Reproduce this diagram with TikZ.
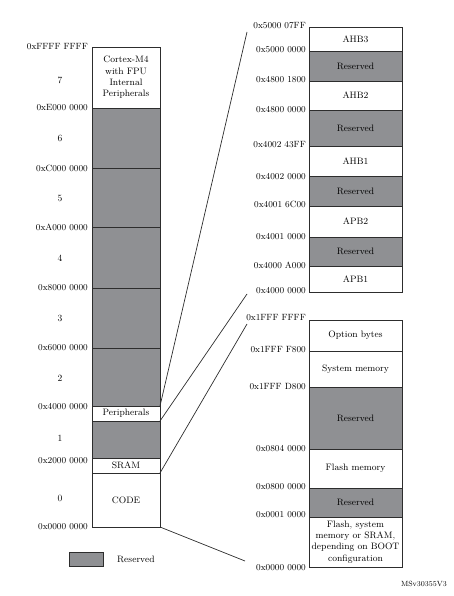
\documentclass[tikz,border=0pt]{standalone}
\usetikzlibrary{positioning}
\definecolor{resgray}{RGB}{143,144,147}
\definecolor{edgegray}{RGB}{45,45,45}
\tikzset{
  cell/.style={draw=edgegray, line width=0.9pt, fill=white, minimum width=#1,
    inner sep=0pt, outer sep=0pt, align=center, font=\fontsize{9.3}{11.3}\selectfont},
  cell/.default=68pt,
  resv/.style={fill=resgray},
  addr/.style={anchor=east, inner sep=0pt, font=\fontsize{9}{10}\selectfont},
  idx/.style={inner sep=0pt, font=\fontsize{9.5}{10}\selectfont},
  link/.style={draw=edgegray, line width=0.7pt}
}
\begin{document}
\begin{tikzpicture}[x=1pt,y=-1pt]
  \useasboundingbox (0,0) rectangle (454,596);

  % Full 4 GB map
  \node[cell, minimum height=61pt, anchor=north west] (r7) at (92,47)
    {Cortex-M4\\with FPU\\Internal\\Peripherals};
  \node[cell, resv, minimum height=60pt, below=0pt of r7] (r6) {};
  \node[cell, resv, minimum height=59pt, below=0pt of r6] (r5) {};
  \node[cell, resv, minimum height=61pt, below=0pt of r5] (r4) {};
  \node[cell, resv, minimum height=60pt, below=0pt of r4] (r3) {};
  \node[cell, resv, minimum height=58pt, below=0pt of r3] (r2) {};
  \node[cell, minimum height=15pt, below=0pt of r2] (per) {Peripherals};
  \node[cell, resv, minimum height=37pt, below=0pt of per] (r1) {};
  \node[cell, minimum height=15pt, below=0pt of r1] (sram) {SRAM};
  \node[cell, minimum height=54pt, below=0pt of sram] (code) {CODE};

  % Block numbers
  \foreach \n/\y in {7/80,6/138,5/198,4/258,3/318,2/378,1/438,0/498}
    \node[idx] (i\n) at (60,\y) {\n};

  % Addresses of the full map
  \node[addr] (a0) at ([xshift=-4pt]r7.north west) {0xFFFF FFFF};
  \node[addr] (a1) at ([xshift=-4pt]r6.north west) {0xE000 0000};
  \node[addr] (a2) at ([xshift=-4pt]r5.north west) {0xC000 0000};
  \node[addr] (a3) at ([xshift=-4pt]r4.north west) {0xA000 0000};
  \node[addr] (a4) at ([xshift=-4pt]r3.north west) {0x8000 0000};
  \node[addr] (a5) at ([xshift=-4pt]r2.north west) {0x6000 0000};
  \node[addr] (a6) at ([xshift=-4pt,yshift=-1pt]per.north west) {0x4000 0000};
  \node[addr] (a7) at ([xshift=-4pt,yshift=5pt]sram.west) {0x2000 0000};
  \node[addr] (a8) at ([xshift=-4pt]code.south west) {0x0000 0000};

  % Peripherals detail
  \node[cell=93pt, minimum height=24pt, anchor=north west] (ahb3) at (309,27) {AHB3};
  \node[cell=93pt, resv, minimum height=30pt, below=0pt of ahb3] (pr4) {Reserved};
  \node[cell=93pt, minimum height=29pt, below=0pt of pr4] (ahb2) {AHB2};
  \node[cell=93pt, resv, minimum height=36pt, below=0pt of ahb2] (pr3) {Reserved};
  \node[cell=93pt, minimum height=30pt, below=0pt of pr3] (ahb1) {AHB1};
  \node[cell=93pt, resv, minimum height=30pt, below=0pt of ahb1] (pr2) {Reserved};
  \node[cell=93pt, minimum height=31pt, below=0pt of pr2] (apb2) {APB2};
  \node[cell=93pt, resv, minimum height=29pt, below=0pt of apb2] (pr1) {Reserved};
  \node[cell=93pt, minimum height=26pt, below=0pt of pr1] (apb1) {APB1};

  \node[addr] (b0) at ([xshift=-3pt,yshift=1pt]ahb3.north west) {0x5000 07FF};
  \node[addr] (b1) at ([xshift=-3pt,yshift=1pt]pr4.north west) {0x5000 0000};
  \node[addr] (b2) at ([xshift=-3pt,yshift=1pt]ahb2.north west) {0x4800 1800};
  \node[addr] (b3) at ([xshift=-3pt]pr3.north west) {0x4800 0000};
  \node[addr] (b4) at ([xshift=-3pt,yshift=1pt]ahb1.north west) {0x4002 43FF};
  \node[addr] (b5) at ([xshift=-3pt,yshift=-1pt]pr2.north west) {0x4002 0000};
  \node[addr] (b6) at ([xshift=-3pt,yshift=2pt]apb2.north west) {0x4001 6C00};
  \node[addr] (b7) at ([xshift=-3pt]pr1.north west) {0x4001 0000};
  \node[addr] (b8) at ([xshift=-3pt,yshift=1pt]apb1.north west) {0x4000 A000};
  \node[addr] (b9) at ([xshift=-3pt,yshift=1pt]apb1.south west) {0x4000 0000};

  % Code area detail
  \node[cell=93pt, minimum height=31pt, anchor=north west] (opt) at (309,320) {Option bytes};
  \node[cell=93pt, minimum height=36pt, below=0pt of opt] (sys) {System memory};
  \node[cell=93pt, resv, minimum height=62pt, below=0pt of sys] (cr2) {Reserved};
  \node[cell=93pt, minimum height=39pt, below=0pt of cr2] (flash) {Flash memory};
  \node[cell=93pt, resv, minimum height=29pt, below=0pt of flash] (cr1) {Reserved};
  \node[cell=93pt, minimum height=50pt, below=0pt of cr1] (boot)
    {Flash, system\\memory or SRAM,\\depending on BOOT\\configuration};

  \node[addr] (c0) at ([xshift=-3pt,yshift=2pt]opt.north west) {0x1FFF FFFF};
  \node[addr] (c1) at ([xshift=-3pt,yshift=1pt]sys.north west) {0x1FFF F800};
  \node[addr] (c2) at ([xshift=-3pt]cr2.north west) {0x1FFF D800};
  \node[addr] (c3) at ([xshift=-3pt]flash.north west) {0x0804 0000};
  \node[addr] (c4) at ([xshift=-3pt,yshift=1pt]cr1.north west) {0x0800 0000};
  \node[addr] (c5) at ([xshift=-3pt,yshift=2pt]boot.north west) {0x0001 0000};
  \node[addr] (c6) at ([xshift=-3pt,yshift=-1pt]boot.south west) {0x0000 0000};

  % Zoom lines
  \coordinate (z1) at (247,32);
  \coordinate (z2) at (247,294);
  \coordinate (z3) at (247,324);
  \coordinate (z4) at (245,561);
  \draw[link] (per.north east) -- (z1);
  \draw[link] (per.south east) -- (z2);
  \draw[link] (sram.south east) -- (z3);
  \draw[link] (code.south east) -- (z4);

  % Legend
  \node[cell=34pt, resv, minimum height=14pt, anchor=north west] (key) at (69,552) {};
  \node[anchor=west, inner sep=0pt, font=\fontsize{9.3}{10}\selectfont] (keytxt)
    at ([xshift=14pt]key.east) {Reserved};
  \node[anchor=east, inner sep=0pt, font=\fontsize{7.5}{8}\selectfont] (ref)
    at (447,584) {MSv30355V3};
\end{tikzpicture}
\end{document}
